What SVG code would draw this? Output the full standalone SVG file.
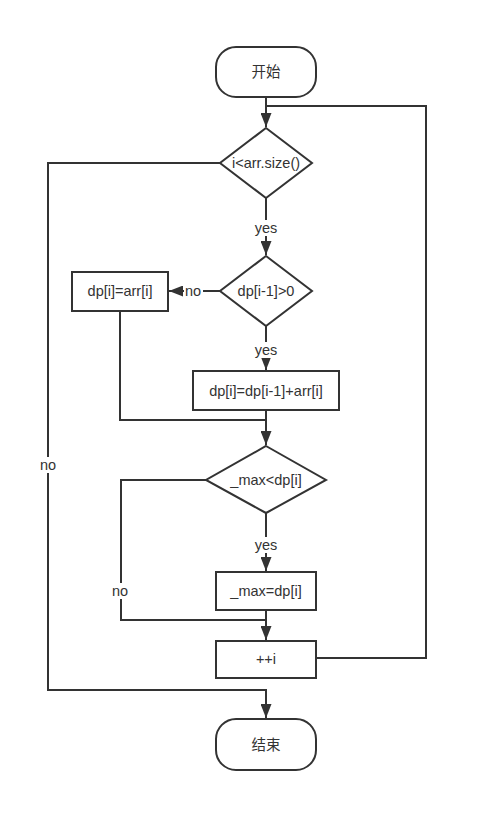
<svg xmlns="http://www.w3.org/2000/svg" width="488" height="832" viewBox="0 0 488 832">
<style>
.n{fill:#fff;stroke:#333;stroke-width:2}
.c{fill:none;stroke:#333;stroke-width:2}
text{font-family:"Liberation Sans","Noto Sans CJK SC",sans-serif;font-size:14.5px;fill:#333;text-anchor:middle;dominant-baseline:central}
.lb{fill:#fff;stroke:none}
</style>
<defs>
<marker id="a" markerWidth="14" markerHeight="11" refX="14" refY="5.5" orient="auto" markerUnits="userSpaceOnUse">
<path d="M0,0 L14,5.5 L0,11 Z" fill="#333"/>
</marker>
</defs>
<rect width="488" height="832" fill="#fff"/>
<g id="connectors">
<path class="c" d="M266,97 V127" marker-end="url(#a)"/>
<path class="c" d="M316,658 H426 V106 H266"/>
<path class="c" d="M220,163 H48 V690 H266 V718" marker-end="url(#a)"/>
<path class="c" d="M266,198 V255" marker-end="url(#a)"/>
<path class="c" d="M220,291 H169" marker-end="url(#a)"/>
<path class="c" d="M266,326 V370" marker-end="url(#a)"/>
<path class="c" d="M120,311 V420 H266"/>
<path class="c" d="M266,410 V445" marker-end="url(#a)"/>
<path class="c" d="M206,480 H121 V620 H266"/>
<path class="c" d="M266,513 V571" marker-end="url(#a)"/>
<path class="c" d="M266,610 V640" marker-end="url(#a)"/>
<rect class="lb" x="252" y="220" width="28" height="16"/>
<text x="266" y="228">yes</text>
<rect class="lb" x="252" y="342" width="28" height="16"/>
<text x="266" y="350">yes</text>
<rect class="lb" x="252" y="537" width="28" height="16"/>
<text x="266" y="545">yes</text>
<rect class="lb" x="184" y="284" width="19" height="15"/>
<text x="193" y="291">no</text>
<rect class="lb" x="37" y="457" width="22" height="16"/>
<text x="48" y="465">no</text>
<rect class="lb" x="109" y="583" width="23" height="16"/>
<text x="120" y="591">no</text>
</g>
<g id="start"><rect class="n" x="216" y="47" width="100" height="50" rx="20"/><text x="266" y="72">开始</text></g>
<g id="cond1"><polygon class="n" points="266,128 312,163 266,198 220,163"/><text x="266" y="163">i&lt;arr.size()</text></g>
<g id="cond2"><polygon class="n" points="266,256 312,291 266,326 220,291"/><text x="266" y="291">dp[i-1]&gt;0</text></g>
<g id="assign1"><rect class="n" x="72" y="272" width="96" height="39"/><text x="120" y="291">dp[i]=arr[i]</text></g>
<g id="assign2"><rect class="n" x="193" y="371" width="146" height="39"/><text x="266" y="391">dp[i]=dp[i-1]+arr[i]</text></g>
<g id="cond3"><polygon class="n" points="266,446 326,480 266,513 206,480"/><text x="266" y="480">_max&lt;dp[i]</text></g>
<g id="assign3"><rect class="n" x="216" y="572" width="100" height="38"/><text x="266" y="591">_max=dp[i]</text></g>
<g id="inc"><rect class="n" x="216" y="641" width="100" height="37"/><text x="266" y="659">++i</text></g>
<g id="end"><rect class="n" x="216" y="719" width="100" height="51" rx="20"/><text x="266" y="745">结束</text></g>
</svg>
